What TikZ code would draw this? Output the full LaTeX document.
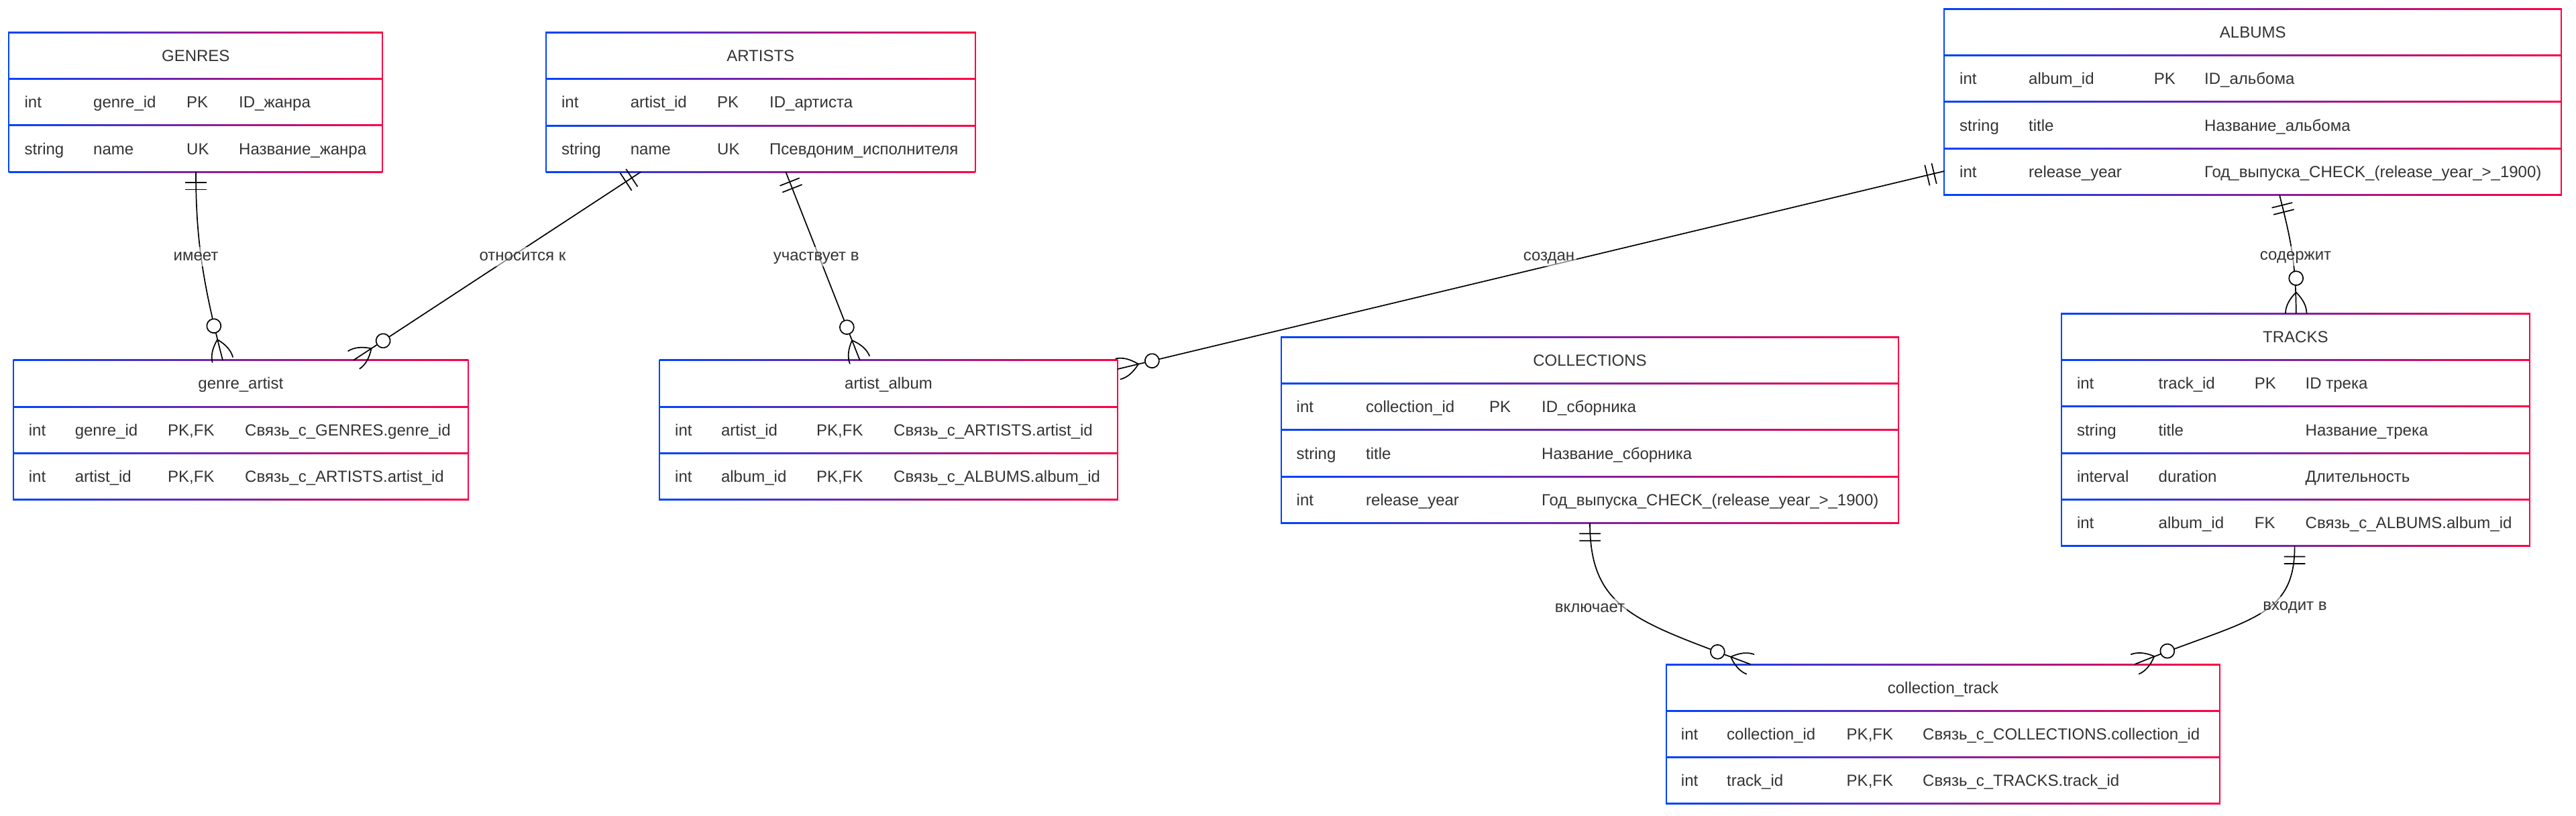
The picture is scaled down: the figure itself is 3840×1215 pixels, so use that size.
\documentclass[tikz,border=0pt]{standalone}
\usepackage{fontspec}
\setmainfont{Liberation Sans}
\usetikzlibrary{calc,decorations.markings}
\definecolor{erblue}{RGB}{0,68,255}
\definecolor{erred}{RGB}{255,0,68}
\definecolor{ertext}{RGB}{51,51,51}
\tikzset{
  tblbox/.style={draw=none, fill=white, inner sep=0pt, outer sep=0pt, rectangle},
  ertxt/.style={anchor=base west, inner sep=0pt, text=ertext, font=\fontsize{24}{28}\selectfont},
  ertitle/.style={anchor=base, inner sep=0pt, text=ertext, font=\fontsize{24}{28}\selectfont},
  rellabel/.style={anchor=base, inner sep=3pt, text height=17.5pt, text depth=5pt, fill=white, fill opacity=0.55, text opacity=1, text=ertext, font=\fontsize{24}{28}\selectfont},
  conn/.style={draw=black, line width=1.7pt, postaction={decorate}, decoration={markings,
     mark=at position 0 with {\draw[line width=1.7pt] (15.75pt,-15.75pt)--(15.75pt,15.75pt) (26.25pt,-15.75pt)--(26.25pt,15.75pt);},
     mark=at position -0.2pt with {\draw[line width=1.7pt] (0pt,15.75pt) .. controls (-10.5pt,15.75pt) and (-21pt,10.5pt) .. (-31.5pt,0pt) .. controls (-21pt,-10.5pt) and (-10.5pt,-15.75pt) .. (0pt,-15.75pt); \draw[line width=1.7pt, fill=white] (-52.5pt,0pt) circle (10.5pt);}}},
}
\newcommand\ertable[6]{%
  \node[tblbox, anchor=north west, minimum width=#4pt, minimum height={(#5+1)*69.3pt}] (#1) at (#2,#3) {};
  \pgfmathtruncatemacro\ern{#5+1}%
  \foreach \i in {0,...,\ern}{\shade[left color=erblue,right color=erred] ($(#1.north west)+(0,\i*69.3-1)$) rectangle ($(#1.north east)+(0,\i*69.3+1)$);}
  \fill[erblue] ($(#1.north west)+(-1,-1)$) rectangle ($(#1.south west)+(1,1)$);
  \fill[erred] ($(#1.north east)+(-1,-1)$) rectangle ($(#1.south east)+(1,1)$);
  \node[ertitle] (#1-title) at ($(#1.north)+(0,43.2)$) {#6};
}
\newcommand\errow[6]{%
  \node[ertxt] (#1-#2-type) at ($(#1.north west)+(\colA,{(#2+0.5)*69.3+8.5})$) {#3};
  \node[ertxt] (#1-#2-name) at ($(#1.north west)+(\colB,{(#2+0.5)*69.3+8.5})$) {#4};
  \if\relax\detokenize{#5}\relax\else
  \node[ertxt] (#1-#2-key) at ($(#1.north west)+(\colC,{(#2+0.5)*69.3+8.5})$) {#5};\fi
  \node[ertxt] (#1-#2-desc) at ($(#1.north west)+(\colD,{(#2+0.5)*69.3+8.5})$) {#6};
}
\begin{document}
\begin{tikzpicture}[x=1pt,y=-1pt]
\useasboundingbox (0,0) rectangle (3840,1215);
\fill[white] (0,0) rectangle (3840,1215);

\def\colA{23}\def\colB{125.6}\def\colC{264.6}\def\colD{342.6}
\ertable{genres}{13.4}{48.3}{556.8}{2}{GENRES}
\errow{genres}{1}{int}{genre\_id}{PK}{ID\_жанра}
\errow{genres}{2}{string}{name}{UK}{Название\_жанра}

\def\colA{23}\def\colB{125.7}\def\colC{255.1}\def\colD{333.1}
\ertable{artists}{813.9}{48.5}{639.6}{2}{ARTISTS}
\errow{artists}{1}{int}{artist\_id}{PK}{ID\_артиста}
\errow{artists}{2}{string}{name}{UK}{Псевдоним\_исполнителя}

\def\colA{22.6}\def\colB{125.6}\def\colC{312.3}\def\colD{387.6}
\ertable{albums}{2898.4}{13.3}{919.6}{3}{ALBUMS}
\errow{albums}{1}{int}{album\_id}{PK}{ID\_альбома}
\errow{albums}{2}{string}{title}{}{Название\_альбома}
\errow{albums}{3}{int}{release\_year}{}{Год\_выпуска\_CHECK\_(release\_year\_>\_1900)}

\def\colA{23}\def\colB{91.9}\def\colC{230.3}\def\colD{345.3}
\ertable{ga}{19.7}{536.7}{678.3}{2}{genre\_artist}
\errow{ga}{1}{int}{genre\_id}{PK,FK}{Связь\_с\_GENRES.genre\_id}
\errow{ga}{2}{int}{artist\_id}{PK,FK}{Связь\_с\_ARTISTS.artist\_id}

\def\colA{23}\def\colB{91.8}\def\colC{234}\def\colD{349}
\ertable{aa}{983}{536.7}{683}{2}{artist\_album}
\errow{aa}{1}{int}{artist\_id}{PK,FK}{Связь\_с\_ARTISTS.artist\_id}
\errow{aa}{2}{int}{album\_id}{PK,FK}{Связь\_с\_ALBUMS.album\_id}

\def\colA{22.1}\def\colB{125.6}\def\colC{309.6}\def\colD{387.6}
\ertable{coll}{1910.4}{502.3}{919.2}{3}{COLLECTIONS}
\errow{coll}{1}{int}{collection\_id}{PK}{ID\_сборника}
\errow{coll}{2}{string}{title}{}{Название\_сборника}
\errow{coll}{3}{int}{release\_year}{}{Год\_выпуска\_CHECK\_(release\_year\_>\_1900)}

\def\colA{22.9}\def\colB{144.6}\def\colC{287.8}\def\colD{363.6}
\ertable{tracks}{3072.9}{467.3}{697.8}{4}{TRACKS}
\errow{tracks}{1}{int}{track\_id}{PK}{ID трека}
\errow{tracks}{2}{string}{title}{}{Название\_трека}
\errow{tracks}{3}{interval}{duration}{}{Длительность}
\errow{tracks}{4}{int}{album\_id}{FK}{Связь\_с\_ALBUMS.album\_id}

\def\colA{22}\def\colB{90.3}\def\colC{268.8}\def\colD{382.3}
\ertable{ct}{2483.7}{990}{825.6}{2}{collection\_track}
\errow{ct}{1}{int}{collection\_id}{PK,FK}{Связь\_с\_COLLECTIONS.collection\_id}
\errow{ct}{2}{int}{track\_id}{PK,FK}{Связь\_с\_TRACKS.track\_id}

% connectors
\draw[conn] ($(genres.south west)+(278.6,0)$) .. controls +(0,100) and +(-30,-116) .. ($(ga.north west)+(312.3,0)$);
\draw[conn] ($(artists.south west)+(141.1,0)$) -- ($(ga.north west)+(507.3,0)$);
\draw[conn] ($(artists.south west)+(357.5,0)$) -- ($(aa.north west)+(298.7,0)$);
\draw[conn] ($(albums.north west)+(0,241.7)$) -- ($(aa.north east)+(0,13.3)$);
\draw[conn] ($(albums.south west)+(499.6,0)$) .. controls +(15,60) and +(0,-80) .. ($(tracks.north west)+(349.8,0)$);
\draw[conn] ($(coll.south west)+(459.6,0)$) .. controls +(0,130) and +(-169,-64) .. ($(ct.north west)+(125.9,0)$);
\draw[conn] ($(tracks.south west)+(347.7,0)$) .. controls +(0,110) and +(167,-68) .. ($(ct.north west)+(698.3,0)$);

% labels
\node[rellabel] (lab1) at (292,388.5) {имеет};
\node[rellabel] (lab2) at (779,388.5) {относится к};
\node[rellabel] (lab3) at (1216.7,388.5) {участвует в};
\node[rellabel] (lab4) at (2309,388.5) {создан};
\node[rellabel] (lab5) at (3422,387.5) {содержит};
\node[rellabel] (lab6) at (2370,912.5) {включает};
\node[rellabel] (lab7) at (3421,909.5) {входит в};
\end{tikzpicture}
\end{document}
